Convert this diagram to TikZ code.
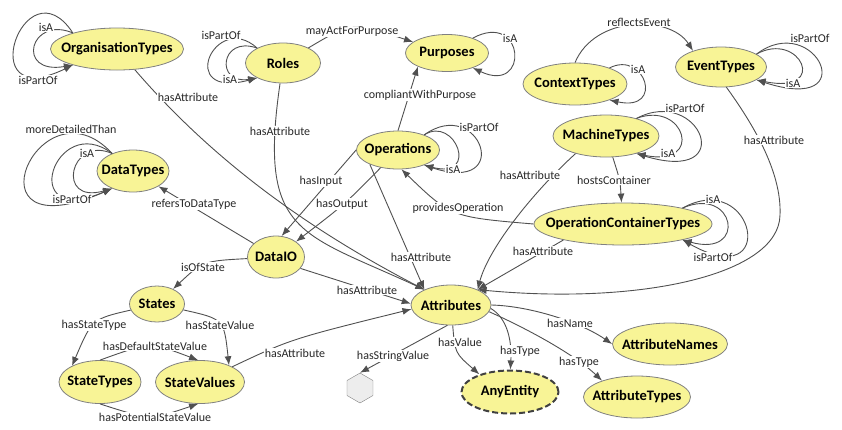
\documentclass[tikz,border=0pt]{standalone}
\usepackage{fontspec}
\setmainfont{Carlito}
\usetikzlibrary{shapes.geometric,arrows.meta}
\definecolor{clsfill}{RGB}{248,244,150}
\definecolor{clsline}{RGB}{128,128,128}
\definecolor{relline}{RGB}{80,80,80}
\definecolor{lbltext}{RGB}{40,40,40}
\newcommand{\cname}[1]{\makebox[0pt]{#1}}

\begin{document}
\begin{tikzpicture}[x=1pt, y=-1pt,
        cls/.style={ellipse, draw=clsline, fill=clsfill, line width=0.8pt, inner sep=0pt, font=\fontsize{14.5}{17}\selectfont\bfseries},
        anycls/.style={cls, draw=black!75, dash pattern=on 6pt off 3pt, line width=2pt},
        strval/.style={regular polygon, regular polygon sides=6, shape border rotate=30, draw=gray, fill=black!7, minimum size=30, inner sep=0pt},
        rel/.style={draw=relline, line width=0.9pt, -{Latex[length=9pt, width=7pt]}},
        lbl/.style={fill=white, inner sep=0.5pt, text=lbltext, font=\fontsize{12}{14}\selectfont}]
        \useasboundingbox (0, 0) rectangle (842, 429);

        % classes
        \node[cls, minimum width=133, minimum height=42] at(117, 49) (orgtypes) {\cname{OrganisationTypes}};
        \node[cls, minimum width=75, minimum height=40] at(283, 63) (roles) {\cname{Roles}};
        \node[cls, minimum width=83, minimum height=37] at(447, 53) (purposes) {\cname{Purposes}};
        \node[cls, minimum width=104, minimum height=42] at(575, 84) (contexttypes) {\cname{ContextTypes}};
        \node[cls, minimum width=91, minimum height=40] at(721, 67) (eventtypes) {\cname{EventTypes}};
        \node[cls, minimum width=72, minimum height=42] at(133, 171) (datatypes) {\cname{DataTypes}};
        \node[cls, minimum width=83, minimum height=38] at(398, 150) (operations) {\cname{Operations}};
        \node[cls, minimum width=106, minimum height=42] at(606, 136) (machinetypes) {\cname{MachineTypes}};
        \node[cls, minimum width=178, minimum height=42] at(623, 224) (oct) {\cname{OperationContainerTypes}};
        \node[cls, minimum width=57, minimum height=42] at(276, 257) (dataio) {\cname{DataIO}};
        \node[cls, minimum width=55, minimum height=36] at(157, 304) (states) {\cname{States}};
        \node[cls, minimum width=80, minimum height=40] at(451, 305) (attributes) {\cname{Attributes}};
        \node[cls, minimum width=82, minimum height=43] at(100, 382) (statetypes) {\cname{StateTypes}};
        \node[cls, minimum width=89, minimum height=43] at(200, 382) (statevalues) {\cname{StateValues}};
        \node[anycls, minimum width=97, minimum height=43] at(510, 392) (anyentity) {\cname{AnyEntity}};
        \node[cls, minimum width=115, minimum height=42] at(670, 344) (attributenames) {\cname{AttributeNames}};
        \node[cls, minimum width=107, minimum height=42] at(637, 397) (attributetypes) {\cname{AttributeTypes}};
        \node[strval] at(360, 388) (strval) {};

        % self loops
        \draw[rel] (orgtypes.160) .. controls (30, 15) and (15, 75) .. (orgtypes.200);
        \draw[rel] (orgtypes.160) .. controls (25, -40) and (-30, 115) .. (orgtypes.200);
        \draw[rel] (roles.150) .. controls (215, 10) and (175, 100) .. (roles.210);
        \draw[rel] (roles.150) .. controls (220, 35) and (215, 85) .. (roles.210);
        \draw[rel] (purposes.30) .. controls (525, 10) and (530, 95) .. (purposes.-30);
        \draw[rel] (contexttypes.25) .. controls (645, 50) and (665, 112) .. (contexttypes.-25);
        \draw[rel] (eventtypes.20) .. controls (815, 10) and (865, 115) .. (eventtypes.-20);
        \draw[rel] (eventtypes.20) .. controls (800, 30) and (830, 95) .. (eventtypes.-20);
        \draw[rel] (datatypes.140) .. controls (70, 135) and (55, 205) .. (datatypes.220);
        \draw[rel] (datatypes.140) .. controls (55, 110) and (15, 230) .. (datatypes.220);
        \draw[rel] (datatypes.140) .. controls (40, 75) and (-40, 255) .. (datatypes.220);
        \draw[rel] (operations.30) .. controls (480, 95) and (515, 195) .. (operations.-30);
        \draw[rel] (operations.30) .. controls (455, 115) and (480, 180) .. (operations.-30);
        \draw[rel] (machinetypes.30) .. controls (700, 85) and (740, 185) .. (machinetypes.-30);
        \draw[rel] (machinetypes.30) .. controls (685, 100) and (705, 168) .. (machinetypes.-30);
        \draw[rel] (oct.15) .. controls (735, 185) and (748, 258) .. (oct.-15);
        \draw[rel] (oct.15) .. controls (755, 168) and (780, 295) .. (oct.-15);

        % relations
        \draw[rel] (orgtypes) .. controls (216, 164) and (312, 231) .. (attributes.150);
        \draw[rel] (roles) .. controls (258, 235) and (300, 232) .. (attributes.150);
        \draw[rel] (roles) .. controls (352, 22) .. (purposes);
        \draw[rel] (operations.90) -- (purposes.205);
        \draw[rel] (operations.180) -- (dataio.75);
        \draw[rel] (operations) .. controls (345, 204) .. (dataio);
        \draw[rel] (operations.207) -- (attributes.150);
        \draw[rel] (dataio) -- (datatypes);
        \draw[rel] (dataio) .. controls (203, 261) .. (states);
        \draw[rel] (dataio.-25) -- (attributes.178);
        \draw[rel] (states) .. controls (92, 319) .. (statetypes.150);
        \draw[rel] (states) .. controls (224, 319) .. (statevalues.30);
        \draw[rel] (statetypes.90) .. controls (150, 342) .. (statevalues.95);
        \draw[rel] (statetypes.270) .. controls (150, 420) .. (statevalues.265);
        \draw[rel] (statevalues) .. controls (291, 339) .. (attributes.186);
        \draw[rel] (attributes.260) -- (strval.north);
        \draw[rel] (attributes) .. controls (455, 353) .. (anyentity.150);
        \draw[rel] (attributes.-5) .. controls (507, 318) and (512, 340) .. (anyentity.89);
        \draw[rel] (attributes.0) .. controls (530, 306) and (580, 322) .. (attributenames.180);
        \draw[rel] (attributes.-10) .. controls (530, 330) and (575, 355) .. (attributetypes.155);
        \draw[rel] (machinetypes.210) .. controls (530, 195) and (488, 250) .. (attributes.30);
        \draw[rel] (machinetypes) .. controls (620, 180) .. (oct);
        \draw[rel] (oct.180) .. controls (451, 217) .. (operations.280);
        \draw[rel] (oct.195) -- (attributes.30);
        \coordinate (evturn) at(780, 215);
        \draw[rel] (eventtypes.-75) .. controls (750, 120) and (782, 170) .. (evturn) .. controls (779, 275) and (640, 305) .. (attributes.30);
        \draw[rel] (contexttypes.90) .. controls (595, 15) and (670, 15) .. (eventtypes.150);

        % labels
        \node[lbl] at(46, 27) (l-org-isa) {isA};
        \node[lbl] at(38, 80) (l-org-ispartof) {isPartOf};
        \node[lbl] at(221, 35) (l-roles-ispartof) {isPartOf};
        \node[lbl] at(230, 79) (l-roles-isa) {isA};
        \node[lbl] at(352, 32) (l-mayact) {mayActForPurpose};
        \node[lbl] at(510, 38) (l-purp-isa) {isA};
        \node[lbl] at(639, 22) (l-reflects) {reflectsEvent};
        \node[lbl] at(638, 69) (l-ctx-isa) {isA};
        \node[lbl] at(810, 38) (l-ev-ispartof) {isPartOf};
        \node[lbl] at(793, 83) (l-ev-isa) {isA};
        \node[lbl] at(188, 97) (l-org-attr) {hasAttribute};
        \node[lbl] at(420, 95) (l-compliant) {compliantWithPurpose};
        \node[lbl] at(280, 131) (l-roles-attr) {hasAttribute};
        \node[lbl] at(71, 129) (l-dt-detail) {moreDetailedThan};
        \node[lbl] at(87, 153) (l-dt-isa) {isA};
        \node[lbl] at(72, 199) (l-dt-ispartof) {isPartOf};
        \node[lbl] at(479, 127) (l-op-ispartof) {isPartOf};
        \node[lbl] at(453, 169) (l-op-isa) {isA};
        \node[lbl] at(685, 108) (l-mt-ispartof) {isPartOf};
        \node[lbl] at(668, 153) (l-mt-isa) {isA};
        \node[lbl] at(774, 140) (l-ev-attr) {hasAttribute};
        \node[lbl] at(321, 181) (l-input) {hasInput};
        \node[lbl] at(530, 175) (l-mt-attr) {hasAttribute};
        \node[lbl] at(614, 180) (l-hosts) {hostsContainer};
        \node[lbl] at(342, 204) (l-output) {hasOutput};
        \node[lbl] at(194, 204) (l-refers) {refersToDataType};
        \node[lbl] at(458, 208) (l-provides) {providesOperation};
        \node[lbl] at(713, 199) (l-oct-isa) {isA};
        \node[lbl] at(713, 257) (l-oct-ispartof) {isPartOf};
        \node[lbl] at(543, 251) (l-oct-attr) {hasAttribute};
        \node[lbl] at(421, 257) (l-op-attr) {hasAttribute};
        \node[lbl] at(203, 267) (l-ofstate) {isOfState};
        \node[lbl] at(367, 290) (l-io-attr) {hasAttribute};
        \node[lbl] at(94, 325) (l-statetype) {hasStateType};
        \node[lbl] at(220, 325) (l-statevalue) {hasStateValue};
        \node[lbl] at(570, 323) (l-name) {hasName};
        \node[lbl] at(460, 342) (l-value) {hasValue};
        \node[lbl] at(155, 346) (l-default) {hasDefaultStateValue};
        \node[lbl] at(520, 351) (l-any-type) {hasType};
        \node[lbl] at(295, 353) (l-sv-attr) {hasAttribute};
        \node[lbl] at(393, 356) (l-string) {hasStringValue};
        \node[lbl] at(579, 362) (l-attr-type) {hasType};
        \node[lbl] at(155, 417) (l-potential) {hasPotentialStateValue};
    \end{tikzpicture}
\end{document}
